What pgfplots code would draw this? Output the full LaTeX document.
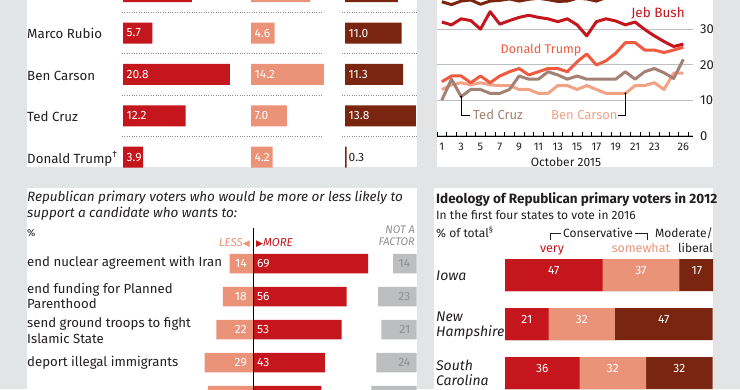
\documentclass[border=0pt]{standalone}
\usepackage{fontspec}
\setmainfont{Fira Sans}
\newfontfamily\dejavu{DejaVu Sans}
\usepackage{pgfplots}
\usepackage{pgfplotstable}
\pgfplotsset{compat=1.18}

\definecolor{bg}{HTML}{E3E4E5}
\definecolor{ered}{HTML}{C4161C}
\definecolor{esalmon}{HTML}{EB9378}
\definecolor{ebrown}{HTML}{7A2510}
\definecolor{egreybar}{HTML}{BDBEC0}
\definecolor{egreytxt}{HTML}{8E8F91}
\definecolor{etrump}{HTML}{F05A40}
\definecolor{ecruz}{HTML}{A38275}
\definecolor{ecarson}{HTML}{F2A385}
\definecolor{egrid}{HTML}{BDBEC0}
\definecolor{etext}{HTML}{231F20}
\definecolor{edots}{HTML}{8A8B8D}

\newcommand{\fs}[1]{\fontsize{#1pt}{#1pt}\selectfont}

% top-left panel (row 0 is cut off at the top of the picture)
\pgfplotstableread{
k a b c
0 13.4 11.5 10.3
1 5.7 4.6 11.0
2 20.8 14.2 11.3
3 12.2 7.0 13.8
4 3.9 4.2 0.3
}\tabA

% line chart, October 2015
\pgfplotstableread{
day top bush trump cruz carson
1 37.8 32.1 15.3 10.1 13.1
2 37.0 31.3 16.9 16.0 14.4
3 38.0 33.0 16.9 11.1 15.0
4 38.3 32.5 15.0 13.1 14.4
5 37.1 30.1 16.9 13.1 15.0
6 38.0 35.0 15.0 12.0 14.4
7 38.2 31.5 16.9 12.0 14.2
8 38.6 32.5 18.1 13.1 14.2
9 38.0 33.4 19.0 16.9 13.1
10 38.5 34.0 17.2 16.0 13.1
11 38.8 33.4 18.1 16.0 12.0
12 38.4 33.0 19.0 18.1 12.0
13 37.9 32.2 19.0 17.2 14.2
14 38.0 33.0 18.1 16.0 14.2
15 38.8 31.3 20.9 16.9 13.1
16 38.6 28.2 23.1 16.0 14.2
17 38.0 32.2 20.0 16.0 13.1
18 39.0 33.0 21.2 16.0 12.0
19 40.0 32.4 23.3 16.0 12.0
20 40.0 31.3 26.3 18.1 12.0
21 40.5 32.1 26.3 16.0 14.2
22 40.0 30.0 24.2 18.1 14.2
23 40.5 28.2 24.2 19.0 15.0
24 41.0 26.6 23.5 17.8 13.1
25 41.0 25.2 24.2 16.2 17.7
26 41.0 25.9 25.0 21.6 17.7
}\tabL

% more / less likely (row 5 is cut off at the bottom of the picture)
\pgfplotstableread{
k less more nf
1 14 69 14
2 18 56 23
3 22 53 21
4 29 43 24
5 27 41 27
}\tabB

% ideology
\pgfplotstableread{
k very some mod
1 47 37 17
2 21 32 47
3 36 32 32
}\tabC

\pgfplotsset{
  /pgf/number format/assume math mode=true,
  colbar/.style={hide axis, x=5.14pt, y=41.4pt, y dir=reverse, xmin=0,
    ymin=0.2029, ymax=4.2367, anchor=north west, clip=false, enlargelimits=false},
  lbl/.style={draw=none, mark=none, point meta=explicit,
    nodes near coords={\pgfmathprintnumber[fixed,fixed zerofill,precision=1,assume math mode=true]{\pgfplotspointmeta}},
    nodes near coords style={anchor=west, inner sep=0pt, xshift=3.5pt, text=white, font=\fs{12}}},
  ilbl/.style={draw=none, mark=none, point meta=explicit,
    nodes near coords={\pgfmathprintnumber[assume math mode=true]{\pgfplotspointmeta}},
    nodes near coords style={inner sep=0pt, text=white, font=\fs{12}}},
}
\tikzset{T/.style={inner sep=0pt, text=etext}}

\begin{document}
\begin{tikzpicture}
\useasboundingbox (0pt,0pt) rectangle (740pt,389pt);
\clip (0pt,0pt) rectangle (740pt,389pt);
\fill[bg] (0pt,0pt) rectangle (740pt,389pt);
\fill[white] (27pt,389pt) rectangle (417pt,222pt);
\fill[white] (437pt,389pt) rectangle (713pt,222pt);
\fill[white] (27pt,201pt) rectangle (417pt,0pt);
\fill[white] (434pt,201pt) rectangle (713pt,0pt);

% ---------- top-left panel ----------
\foreach \yy in {376.7,335.3,293.9,252.5} {
  \draw[edots, line width=0.9pt, dash pattern=on 0.9pt off 1.5pt] (122pt,\yy pt) -- (323pt,\yy pt);
  \draw[edots, line width=0.9pt, dash pattern=on 0.9pt off 1.5pt] (342pt,\yy pt) -- (417pt,\yy pt);
}
\node[T, anchor=base west, font=\fs{13.3}] at (27pt,350pt) {Marco Rubio};
\node[T, anchor=base west, font=\fs{13.3}] at (27pt,308.6pt) {Ben Carson};
\node[T, anchor=base west, font=\fs{13.3}] at (27pt,267.2pt) {Ted Cruz};
\node[T, anchor=base west, font=\fs{13.3}] at (27pt,225.8pt) {Donald Trump\textsuperscript{\textdagger}};

\begin{axis}[colbar, at={(123pt,389pt)}, xmax=23.5]
\addplot[xbar, bar shift=0pt, bar width=21pt, fill=ered, draw=none] table[x=a,y=k]{\tabA};
\addplot[lbl, skip coords between index={0}{1}] table[x expr=0, y=k, meta=a]{\tabA};
\end{axis}
\begin{axis}[colbar, at={(251pt,389pt)}, xmax=14.5]
\addplot[xbar, bar shift=0pt, bar width=21pt, fill=esalmon, draw=none] table[x=b,y=k]{\tabA};
\addplot[lbl, skip coords between index={0}{1}] table[x expr=0, y=k, meta=b]{\tabA};
\end{axis}
\begin{axis}[colbar, at={(345pt,389pt)}, xmax=14.0]
\addplot[xbar, bar shift=0pt, bar width=21pt, fill=ebrown, draw=none] table[x=c,y=k]{\tabA};
\addplot[lbl, skip coords between index={0}{1}, skip coords between index={4}{5}] table[x expr=0, y=k, meta=c]{\tabA};
\addplot[lbl, nodes near coords style={text=etext}, skip coords between index={0}{4}] table[x expr=0, y=k, meta=c]{\tabA};
\end{axis}

% ---------- top-right line chart ----------
\begin{axis}[
  at={(437pt,253pt)}, anchor=south west,
  width=256pt, height=136pt, scale only axis,
  xmin=0.5, xmax=27, ymin=0, ymax=38.3, enlargelimits=false,
  axis x line*=bottom, axis y line*=right,
  y axis line style={draw=none},
  x axis line style={black, line width=0.8pt},
  xtick={1,3,5,7,9,11,13,15,17,19,21,23,26},
  minor xtick={0.5,1.5,...,26.5},
  ytick={0,10,20,30},
  ymajorgrids, grid style={egrid, line width=1pt},
  major tick length=0pt, minor tick length=4pt, tick align=inside,
  minor tick style={black, line width=0.6pt},
  xticklabel style={anchor=base, inner sep=0pt, yshift=-14.7pt, font=\fs{11}, text=etext},
  yticklabel style={anchor=west, inner sep=0pt, xshift=7pt, font=\fs{13}, text=etext},
  clip=true,
]
\addplot[ecarson, line width=3pt, line join=round] table[x=day,y=carson]{\tabL};
\addplot[ecruz, line width=3pt, line join=round] table[x=day,y=cruz]{\tabL};
\addplot[etrump, line width=3pt, line join=round] table[x=day,y=trump]{\tabL};
\addplot[ered, line width=3pt, line join=round] table[x=day,y=bush]{\tabL};
\addplot[ebrown, line width=3pt, line join=round] table[x=day,y=top]{\tabL};
\draw[black, line width=0.7pt] (axis cs:3,11.1) -- (axis cs:3,5.9) -- (axis cs:3.9,5.9);
\fill[black] (axis cs:3,11.1) circle[radius=1.1pt];
\draw[black, line width=0.7pt] (axis cs:20,12) -- (axis cs:20,5.9) -- (axis cs:19.2,5.9);
\fill[black] (axis cs:20,12) circle[radius=1.1pt];
\end{axis}
\node[T, anchor=base, font=\fs{13.5}, text=ered] at (658pt,371pt) {Jeb Bush};
\node[T, anchor=base, font=\fs{12.6}, text=etrump] at (541pt,335pt) {Donald Trump};
\node[T, anchor=base west, font=\fs{13}, text=ecruz] at (473pt,269pt) {Ted Cruz};
\node[T, anchor=base west, font=\fs{13}, text=ecarson] at (551pt,269pt) {Ben Carson};
\node[T, anchor=base, font=\fs{12}] at (566pt,222.5pt) {October 2015};

% ---------- bottom-left panel ----------
\node[T, anchor=base west, font=\fs{13.5}\itshape] at (27pt,187.3pt) {Republican primary voters who would be more or less likely to};
\node[T, anchor=base west, font=\fs{13.5}\itshape] at (27pt,171.5pt) {support a candidate who wants to:};
\node[T, anchor=base west, font=\fs{10}] at (27pt,153pt) {\%};
\node[T, anchor=base east, font=\fs{11.5}\itshape, text=esalmon] at (250pt,142.3pt) {LESS{\dejavu\fs{9}\upshape ◀}};
\node[T, anchor=base west, font=\fs{11.5}\itshape, text=ered] at (256pt,142.3pt) {{\dejavu\fs{9}\upshape ▶}MORE};
\node[T, anchor=base east, font=\fs{11}\itshape, text=egreytxt] at (415pt,155.7pt) {NOT A};
\node[T, anchor=base east, font=\fs{11}\itshape, text=egreytxt] at (415pt,143pt) {FACTOR};
\node[T, anchor=base west, font=\fs{13.2}] at (27pt,122.3pt) {end nuclear agreement with Iran};
\node[T, anchor=base west, font=\fs{13.2}] at (27pt,95.7pt) {end funding for Planned};
\node[T, anchor=base west, font=\fs{13.2}] at (27pt,80.2pt) {Parenthood};
\node[T, anchor=base west, font=\fs{13.2}] at (27pt,61.3pt) {send ground troops to fight};
\node[T, anchor=base west, font=\fs{13.2}] at (27pt,45.7pt) {Islamic State};
\node[T, anchor=base west, font=\fs{13.2}] at (27pt,22.3pt) {deport illegal immigrants};

\begin{axis}[hide axis, x=1.67pt, y=33pt, y dir=reverse, xmin=-60, xmax=90,
  ymin=-0.0758, ymax=4.803, at={(152.8pt,161pt)}, anchor=north west, clip=false, enlargelimits=false]
\addplot[xbar, bar shift=0pt, bar width=19.5pt, fill=esalmon, draw=none] table[x expr=-\thisrow{less}, y=k]{\tabB};
\addplot[xbar, bar shift=0pt, bar width=19.5pt, fill=ered, draw=none] table[x=more, y=k]{\tabB};
\addplot[ilbl, skip coords between index={4}{5}, nodes near coords style={anchor=east, xshift=-6pt}] table[x expr=0, y=k, meta=less]{\tabB};
\addplot[ilbl, skip coords between index={4}{5}, nodes near coords style={anchor=west, xshift=4pt}] table[x expr=0, y=k, meta=more]{\tabB};
\draw[black, line width=0.8pt] (axis cs:0,-0.0758) -- (axis cs:0,5);
\end{axis}
\begin{axis}[hide axis, x=1.67pt, y=33pt, x dir=reverse, y dir=reverse, xmin=0, xmax=30,
  ymin=-0.0758, ymax=4.803, at={(416.5pt,161pt)}, anchor=north east, clip=false, enlargelimits=false]
\addplot[xbar, bar shift=0pt, bar width=19.5pt, fill=egreybar, draw=none] table[x=nf, y=k]{\tabB};
\addplot[ilbl, skip coords between index={4}{5}, nodes near coords style={anchor=east, xshift=-6pt, text=egreytxt}] table[x expr=0, y=k, meta=nf]{\tabB};
\end{axis}

% ---------- bottom-right panel ----------
\node[T, anchor=base west, font=\fs{13.5}\bfseries] at (436pt,185.7pt) {Ideology of Republican primary voters in 2012};
\node[T, anchor=base west, font=\fs{12}] at (436pt,169pt) {In the first four states to vote in 2016};
\node[T, anchor=base west, font=\fs{12}] at (436pt,151.7pt) {\% of total\textsuperscript{\S}};
\node[T, anchor=base, font=\fs{12}] at (598pt,151.7pt) {Conservative};
\draw[etext, line width=0.7pt] (550pt,149pt) -- (550pt,156pt) -- (561pt,156pt);
\draw[etext, line width=0.7pt] (635pt,156pt) -- (647pt,156pt) -- (647pt,149pt);
\node[T, anchor=base, font=\fs{12.5}, text=ered] at (552pt,136.3pt) {very};
\node[T, anchor=base, font=\fs{12.5}, text=esalmon] at (641pt,136.3pt) {somewhat};
\node[T, anchor=base east, font=\fs{12}] at (713pt,151.7pt) {Moderate/};
\node[T, anchor=base east, font=\fs{12}] at (713pt,136.3pt) {liberal};
\node[T, anchor=base west, font=\fs{14}\itshape] at (436pt,109pt) {Iowa};
\node[T, anchor=base west, font=\fs{14}\itshape] at (436pt,67.3pt) {New};
\node[T, anchor=base west, font=\fs{14}\itshape] at (436pt,52.3pt) {Hampshire};
\node[T, anchor=base west, font=\fs{14}\itshape] at (436pt,18.3pt) {South};
\node[T, anchor=base west, font=\fs{14}\itshape] at (436pt,3.2pt) {Carolina};

\begin{axis}[hide axis, x=2.075pt, y=49pt, y dir=reverse, xmin=0, xmax=100.24,
  ymin=0.59, ymax=3.33, at={(505pt,134pt)}, anchor=north west, clip=true, enlargelimits=false]
\addplot[xbar, bar shift=0pt, bar width=32pt, fill=ebrown, draw=none] table[x expr=\thisrow{very}+\thisrow{some}+\thisrow{mod}, y=k]{\tabC};
\addplot[xbar, bar shift=0pt, bar width=32pt, fill=esalmon, draw=none] table[x expr=\thisrow{very}+\thisrow{some}, y=k]{\tabC};
\addplot[xbar, bar shift=0pt, bar width=32pt, fill=ered, draw=none] table[x=very, y=k]{\tabC};
\addplot[ilbl] table[x expr=\thisrow{very}/2, y=k, meta=very]{\tabC};
\addplot[ilbl] table[x expr=\thisrow{very}+\thisrow{some}/2, y=k, meta=some]{\tabC};
\addplot[ilbl] table[x expr=\thisrow{very}+\thisrow{some}+\thisrow{mod}/2, y=k, meta=mod]{\tabC};
\end{axis}
\end{tikzpicture}
\end{document}
